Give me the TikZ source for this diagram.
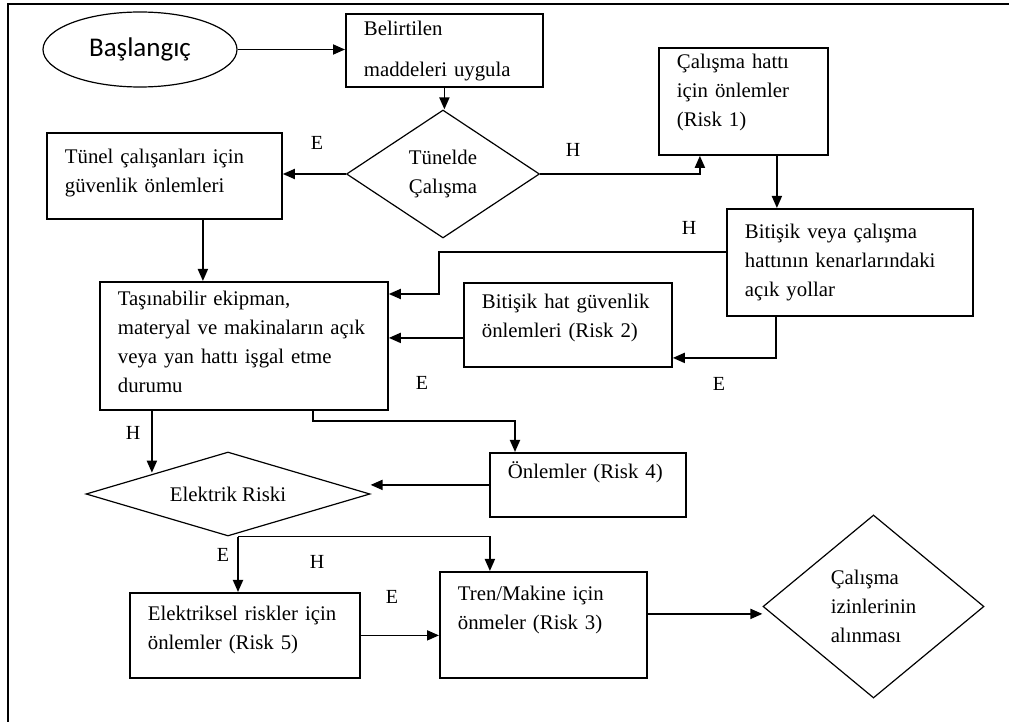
\documentclass[tikz,border=0pt]{standalone}
\usepackage{fontspec}
\setmainfont{Liberation Serif}
\newfontfamily\calibri{Carlito}
\usetikzlibrary{shapes.geometric,arrows.meta}

\begin{document}
\begin{tikzpicture}[x=0.5pt,y=-0.5pt,
    font=\fontsize{10.4}{14.5}\selectfont,
    kutu/.style={draw, line width=0.9pt, anchor=north west, align=left,
      inner xsep=9pt, inner ysep=0pt},
    karar/.style={draw, diamond, line width=0.6pt, inner sep=0pt, align=left},
    ok/.style={line width=0.9pt, -{Triangle[length=6pt,width=5pt]}},
    etiket/.style={inner sep=0pt, font=\fontsize{10}{12}\selectfont}]
        \useasboundingbox (0,0) rectangle (1009,722);
        %Frame
        \draw[line width=1pt] (1009,4) -- (8,4) -- (8,722);
        %Start
        \node[draw, ellipse, line width=0.6pt, inner sep=0pt, minimum width=97pt,
          minimum height=37.5pt, font=\calibri\fontsize{13.5}{16}\selectfont] (bas) at (140,49.5) {Başlangıç};
        %Boxes
        \node[kutu, text width=80.5pt, text height=11pt, text depth=25.5pt] (bel) at (345,13)
          {Belirtilen\\[6pt]maddeleri uygula};
        \node[kutu, text width=66.5pt, text height=10.5pt, text depth=43pt] (hat1) at (658,47)
          {Çalışma hattı\\için önlemler\\(Risk 1)};
        \node[kutu, text width=99.5pt, text height=15.5pt, text depth=27.5pt] (tunel) at (46,132)
          {Tünel çalışanları için\\güvenlik önlemleri};
        \node[kutu, text width=105pt, text height=15pt, text depth=38.5pt] (bitveya) at (726,208)
          {Bitişik veya çalışma\\hattının kenarlarındaki\\açık yollar};
        \node[kutu, text width=86pt, text height=13pt, text depth=29pt] (bithat) at (463,282)
          {Bitişik hat güvenlik\\önlemleri (Risk 2)};
        \node[kutu, text width=126pt, text height=12pt, text depth=52pt] (tasin) at (99,281)
          {Taşınabilir ekipman,\\materyal ve makinaların açık\\veya yan hattı işgal etme\\durumu};
        \node[kutu, text width=80pt, text height=13pt, text depth=19pt] (risk4) at (489,452)
          {Önlemler (Risk 4)};
        \node[kutu, text width=97pt, text height=14pt, text depth=28.5pt] (elk5) at (129,592)
          {Elektriksel riskler için\\önlemler (Risk 5)};
        \node[kutu, text width=85.5pt, text height=14.5pt, text depth=38.5pt] (tren) at (439,571)
          {Tren/Makine için\\önmeler (Risk 3)};
        %Decisions
        \node[karar, minimum width=96.5pt, minimum height=64pt] (tun) at (443,174) {Tünelde\\Çalışma};
        \node[karar, aspect=3.4, minimum width=142pt, minimum height=42pt] (elk) at (228,494) {Elektrik Riski};
        \node[karar, aspect=1.2, minimum width=110.5pt, minimum height=91.5pt] (son) at (873.5,606.5)
          {Çalışma\\izinlerinin\\alınması};
        %Bends
        \coordinate (k1) at (439,294);
        \coordinate (k2) at (515,421);
        %Arrows
        \draw[ok] (bas.east) -- (bas.east -| bel.west);
        \draw[ok] (bel.south) -- (bel.south |- tun.north);
        \draw[ok] (tun.west) -- (tun.west -| tunel.east);
        \draw[ok] (tun.east) -| ([xshift=-21.75pt]hat1.south);
        \draw[ok] ([xshift=16.75pt]hat1.south) -- ([xshift=16.75pt]hat1.south |- bitveya.north);
        \draw[ok] ([yshift=5.25pt]bitveya.west) -| (k1) -- (k1 -| tasin.east);
        \draw[ok] ([yshift=-6.5pt]bithat.west) -- ([yshift=-6.5pt]bithat.west -| tasin.east);
        \draw[ok] ([xshift=-37pt]bitveya.south) |- ([yshift=-16.5pt]bithat.east);
        \draw[ok] ([xshift=19.25pt]tunel.south) -- ([xshift=19.25pt]tunel.south |- tasin.north);
        \draw[ok] ([xshift=34.5pt]tasin.south) |- (k2) -- (k2 |- risk4.north);
        \draw[ok] ([xshift=-46pt]tasin.south) -- ([xshift=-46pt]tasin.south |- elk.north west);
        \draw[ok] (risk4.west) -- (risk4.west -| elk.east);
        \draw[ok] ([xshift=5pt]elk.south) -- ([xshift=5pt]elk.south |- elk5.north);
        \draw[ok] ([xshift=5pt]elk.south) -| ([xshift=-26.75pt]tren.north);
        \draw[ok] (elk5.east) -- (elk5.east -| tren.west);
        \draw[ok] ([yshift=5.5pt]tren.east) -- ([yshift=5.5pt]tren.east -| son.west);
        %Labels
        \node[etiket] (e1) at (317,143) {E};
        \node[etiket] (h1) at (573,150) {H};
        \node[etiket] (h2) at (689,228) {H};
        \node[etiket] (e2) at (719,384) {E};
        \node[etiket] (e3) at (422,383) {E};
        \node[etiket] (h3) at (133,433) {H};
        \node[etiket] (e4) at (223,555) {E};
        \node[etiket] (h4) at (317,562) {H};
        \node[etiket] (e5) at (392,597) {E};
\end{tikzpicture}
\end{document}
